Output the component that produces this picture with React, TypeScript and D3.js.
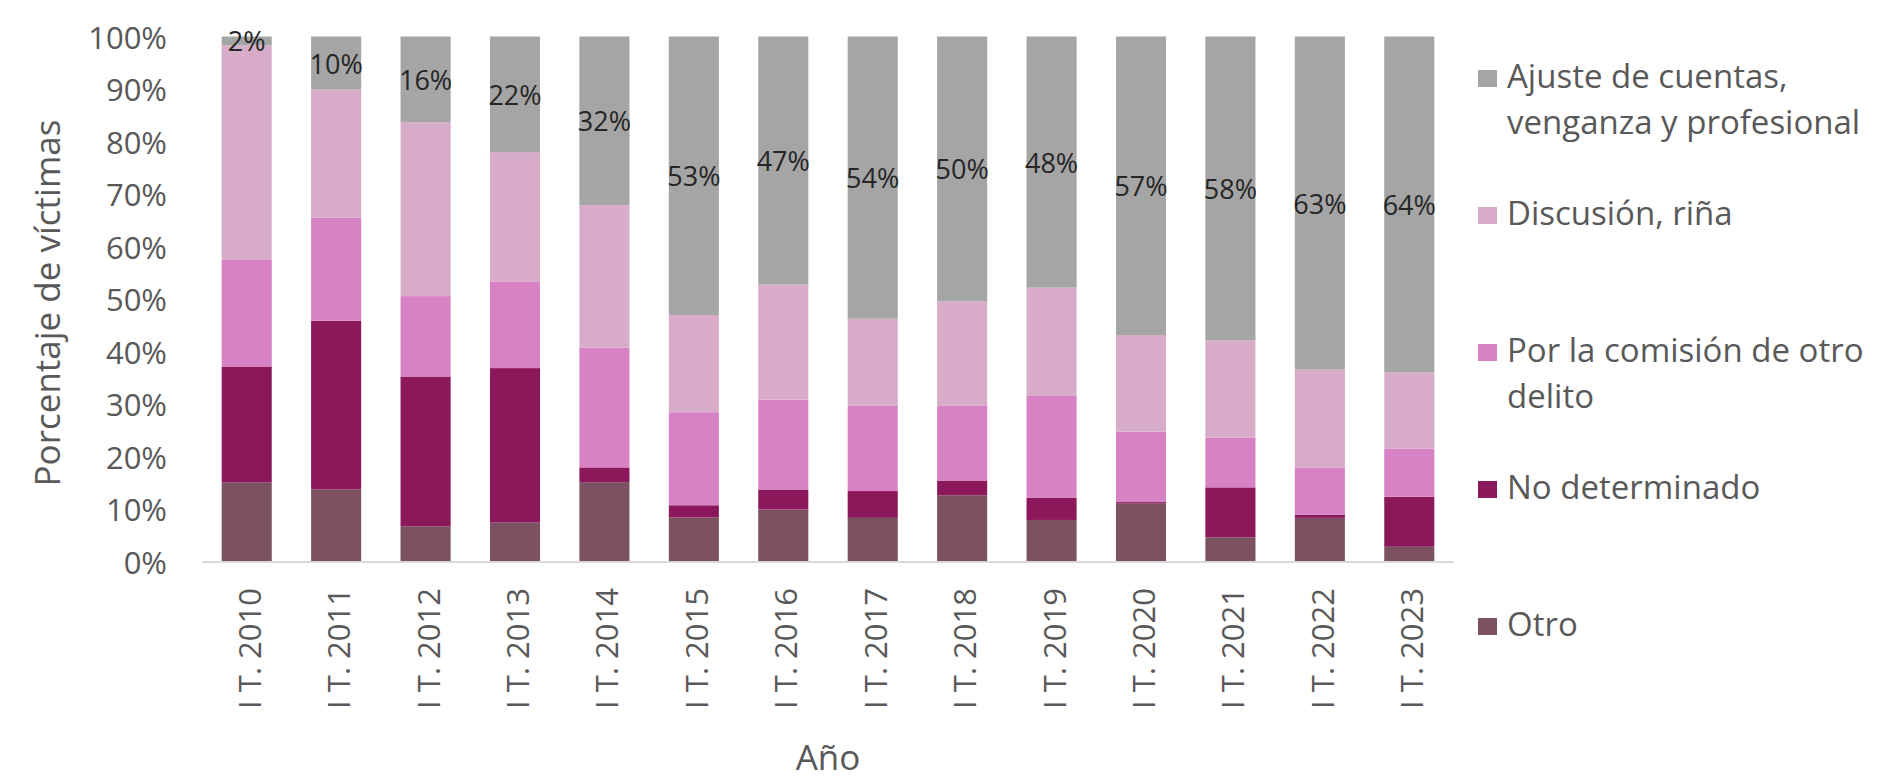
import React from 'react';
import * as d3 from 'd3';

const categories = ['I T. 2010','I T. 2011','I T. 2012','I T. 2013','I T. 2014','I T. 2015','I T. 2016','I T. 2017','I T. 2018','I T. 2019','I T. 2020','I T. 2021','I T. 2022','I T. 2023'];

const otro = [15.1, 13.8, 6.8, 7.5, 15.2, 8.5, 10.0, 8.4, 12.7, 8.0, 11.2, 4.7, 8.4, 2.9];
const noDeterminado = [22.1, 32.1, 28.5, 29.4, 2.8, 2.3, 3.8, 5.1, 2.8, 4.2, 0.2, 9.5, 0.6, 9.5];
const comision = [20.4, 19.6, 15.3, 16.5, 22.8, 17.7, 17.1, 16.3, 14.3, 19.4, 13.4, 9.5, 9.0, 9.2];
const discusion = [40.7, 24.4, 33.1, 24.6, 27.1, 18.5, 21.9, 16.5, 19.8, 20.6, 18.4, 18.5, 18.6, 14.5];
const ajuste = [1.7, 10.1, 16.3, 22.0, 32.1, 53.0, 47.2, 53.7, 50.4, 47.8, 56.8, 57.8, 63.4, 63.9];

const yTicks = [0, 0.1, 0.2, 0.3, 0.4, 0.5, 0.6, 0.7, 0.8, 0.9, 1.0];

const seriesKeys = ['otro', 'noDeterminado', 'comision', 'discusion', 'ajuste'];
const seriesColors: Record<string, string> = {
  otro: '#7C5262',
  noDeterminado: '#8C185C',
  comision: '#D882C6',
  discusion: '#D8ACC9',
  ajuste: '#A5A5A5',
};

const legendItems = [
  { key: 'ajuste', lines: ['Ajuste de cuentas,', 'venganza y profesional'] },
  { key: 'discusion', lines: ['Discusión, riña'] },
  { key: 'comision', lines: ['Por la comisión de otro', 'delito'] },
  { key: 'noDeterminado', lines: ['No determinado'] },
  { key: 'otro', lines: ['Otro'] },
];

const W = 1883;
const H = 783;
const FONT = '"Open Sans", sans-serif';
const GRAY = '#595959';

export default function App() {
  const rows = categories.map((c, i) => ({
    cat: c,
    otro: otro[i],
    noDeterminado: noDeterminado[i],
    comision: comision[i],
    discusion: discusion[i],
    ajuste: ajuste[i],
  }));

  const stack = d3.stack<any>().keys(seriesKeys).offset(d3.stackOffsetExpand);
  const stacked = stack(rows);

  const x = d3.scaleBand<string>().domain(categories).range([202, 1454]).paddingInner(0.44).paddingOuter(0.22);
  const y = d3.scaleLinear().domain([0, 1]).range([562, 36.5]);
  const fmt = d3.format('.0%');

  const ajusteLayer = stacked[stacked.length - 1];

  return (
    <svg width={W} height={H} style={{ position: 'absolute', left: 0, top: 0, background: '#fff' }} fontFamily={FONT}>
      <rect x={0} y={0} width={W} height={H} fill="#fff" />
      {/* y tick labels */}
      {yTicks.map((t) => (
        <text key={t} x={167} y={y(t)} textAnchor="end" dominantBaseline="central" fontSize={31} fill={GRAY}>
          {fmt(t)}
        </text>
      ))}
      {/* bars */}
      {stacked.map((layer) => (
        <g key={layer.key} fill={seriesColors[layer.key]}>
          {layer.map((d, i) => (
            <rect
              key={i}
              x={x(categories[i])}
              y={y(d[1])}
              width={x.bandwidth()}
              height={Math.max(0, y(d[0]) - y(d[1]))}
            />
          ))}
        </g>
      ))}
      {/* baseline */}
      <line x1={202} x2={1454} y1={y(0)} y2={y(0)} stroke="#D9D9D9" strokeWidth={2} />
      {/* data labels on ajuste */}
      {ajusteLayer.map((d, i) => (
        <text
          key={i}
          x={(x(categories[i]) as number) + x.bandwidth() / 2}
          y={(y(d[0]) + y(d[1])) / 2}
          textAnchor="middle"
          dominantBaseline="central"
          fontSize={27}
          fill="#262626"
        >
          {Math.round(ajuste[i]) + '%'}
        </text>
      ))}
      {/* x tick labels */}
      {categories.map((c) => {
        const cx = (x(c) as number) + x.bandwidth() / 2 + 2;
        const ty = 588;
        return (
          <text
            key={c}
            transform={`translate(${cx},${ty}) rotate(-90)`}
            textAnchor="end"
            dominantBaseline="central"
            fontSize={31}
            fill={GRAY}
          >
            {c}
          </text>
        );
      })}
      {/* axis titles */}
      <text transform={`translate(46,303) rotate(-90)`} textAnchor="middle" dominantBaseline="central" fontSize={35} fill={GRAY}>
        Porcentaje de víctimas
      </text>
      <text x={828} y={770} textAnchor="middle" fontSize={35} fill={GRAY}>
        Año
      </text>
      {/* legend */}
      {legendItems.map((it, i) => {
        const base = 88 + i * 137;
        return (
          <g key={it.key}>
            <rect x={1478} y={base - 18} width={19} height={17} fill={seriesColors[it.key]} />
            {it.lines.map((ln, j) => (
              <text key={j} x={1507} y={base + j * 46} fontSize={33} fill={GRAY}>
                {ln}
              </text>
            ))}
          </g>
        );
      })}
    </svg>
  );
}
